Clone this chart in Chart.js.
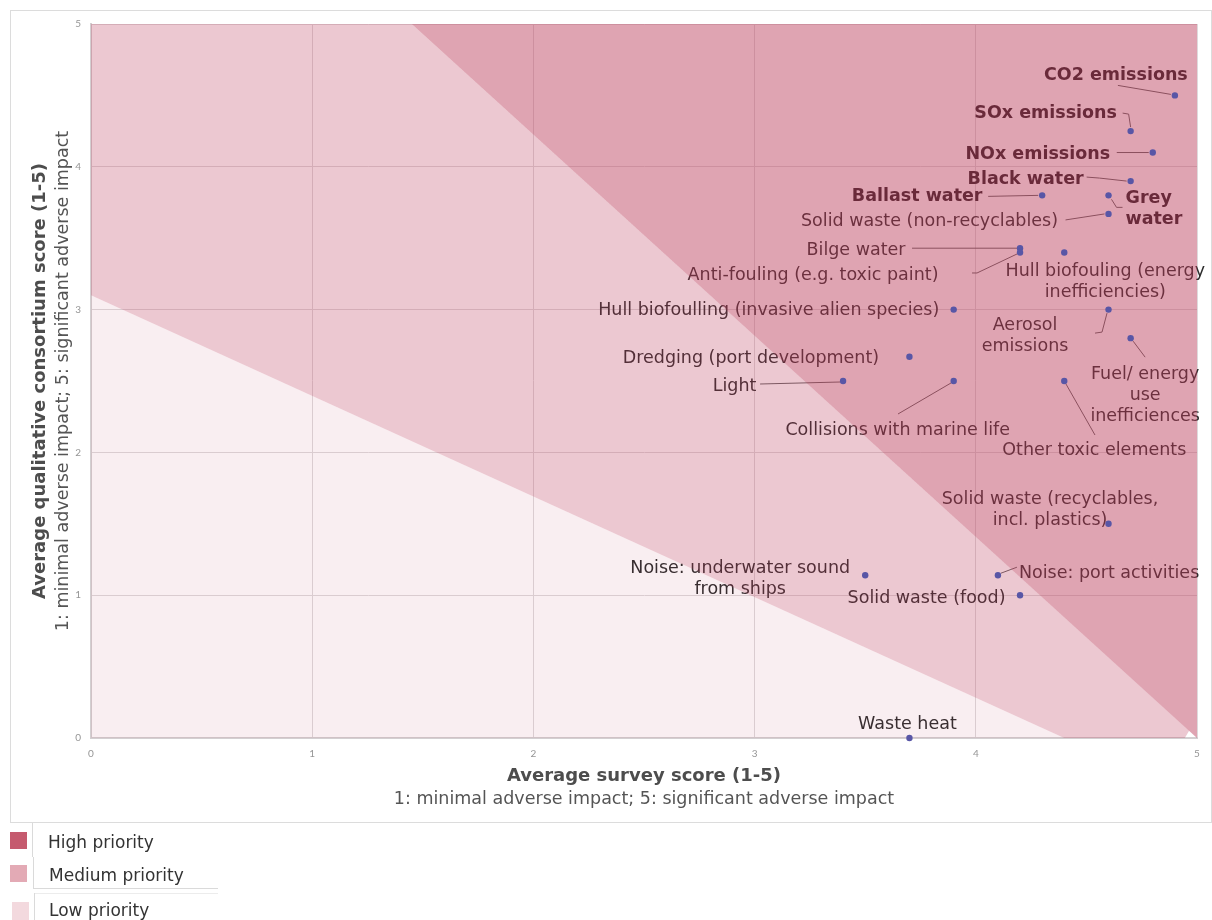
<!DOCTYPE html>
<html>
<head>
<meta charset="utf-8">
<title>Environmental impacts - priority matrix</title>
<script src="https://cdn.jsdelivr.net/npm/chart.js@4"></script>
<style>
    body { margin: 0; background: #fff; font-family: "DejaVu Sans", sans-serif; }
    #wrap { position: relative; width: 1212px; height: 920px; overflow: hidden; }
    #impactChart { position: absolute; left: 0; top: 0; }
    #frame { position: absolute; left: 10px; top: 10px; width: 1200px; height: 811px; border: 1px solid #dcdcdc; pointer-events: none; }
    .swatch { position: absolute; width: 17px; height: 17px; }
    .legend-text { position: absolute; font-size: 17px; color: #333; line-height: 20px; }
    .rule { position: absolute; background: #dadada; }
</style>
</head>
<body>
<div id="wrap">
    <canvas id="impactChart" width="1212" height="920"></canvas>
    <div id="frame"></div>

    <!-- priority legend -->
    <div class="rule" style="left:32px;top:823px;width:1px;height:34px"></div>
    <div class="rule" style="left:33px;top:857px;width:1px;height:31px"></div>
    <div class="rule" style="left:33px;top:888px;width:185px;height:1px"></div>
    <div class="rule" style="left:34px;top:893px;width:184px;height:1px;background:#ececec"></div>
    <div class="rule" style="left:34px;top:893px;width:1px;height:27px"></div>

    <div class="swatch" style="left:10px;top:832px;background:#c55a6e"></div>
    <div class="legend-text" style="left:48px;top:832px">High priority</div>
    <div class="swatch" style="left:10px;top:865px;background:#e3aab5"></div>
    <div class="legend-text" style="left:49px;top:865px">Medium priority</div>
    <div class="swatch" style="left:12px;top:902px;height:20px;background:#f3d9de"></div>
    <div class="legend-text" style="left:49px;top:900px">Low priority</div>
</div>

<script>
// ---- data ----
const impacts = [
    'CO2 emissions', 'SOx emissions', 'NOx emissions', 'Black water', 'Ballast water',
    'Grey\nwater', 'Solid waste (non-recyclables)', 'Bilge water', 'Anti-fouling (e.g. toxic paint)',
    'Hull biofouling (energy\ninefficiencies)', 'Hull biofoulling (invasive alien species)',
    'Aerosol\nemissions', 'Fuel/ energy\nuse\ninefficiences', 'Dredging (port development)',
    'Light', 'Collisions with marine life', 'Other toxic elements',
    'Solid waste (recyclables,\nincl. plastics)', 'Noise: underwater sound\nfrom ships',
    'Noise: port activities', 'Solid waste (food)', 'Waste heat'
];
const surveyScores     = [4.9, 4.7, 4.8, 4.7, 4.3, 4.6, 4.6, 4.2, 4.2, 4.4, 3.9, 4.6, 4.7, 3.7, 3.4, 3.9, 4.4, 4.6, 3.5, 4.1, 4.2, 3.7];
const consortiumScores = [4.5, 4.25, 4.1, 3.9, 3.8, 3.8, 3.67, 3.43, 3.4, 3.4, 3.0, 3.0, 2.8, 2.67, 2.5, 2.5, 2.5, 1.5, 1.14, 1.14, 1.0, 0];
const axisTicks = [0, 1, 2, 3, 4, 5];

// priority zones, corners in score units
const lowZone    = [[0, 0], [0, 3.1], [4.4, 0]];
const mediumZone = [[0, 3.1], [0, 5], [1.45, 5], [4.9645, 0.05], [4.945, 0], [4.4, 0]];
const highZone   = [[1.45, 5], [5, 5], [5, 0]];

// label placement: pixel offsets from the point, optional leader polyline
const labelLayout = [
    { dx: -59,   dy: -22,  bold: true, leader: [[-57, -10], [-4, -1]] },
    { dx: -85,   dy: -20,  bold: true, leader: [[-8, -18], [-2, -17], [0, -4]] },
    { dx: -115,  dy: 0,    bold: true, leader: [[-36, 0], [-4, 0]] },
    { dx: -105,  dy: -4,   bold: true, leader: [[-44, -4], [-31, -3], [-4, 0]] },
    { dx: -125,  dy: -1,   bold: true, leader: [[-54, 1], [-4, 0]] },
    { dx: 17,    dy: 12,   bold: true, align: 'left', leader: [[3, 4], [8, 12], [14, 12]] },
    { dx: -179,  dy: 6,    leader: [[-43, 6], [-4, 0]] },
    { dx: -164,  dy: 0,    leader: [[-108, 0], [-3, 0]] },
    { dx: -207,  dy: 20.5, leader: [[-48, 20.5], [-43, 20.5], [-3, 1.5]] },
    { dx: 41,    dy: 27.5 },
    { dx: -185,  dy: -1.5 },
    { dx: -83.5, dy: 24.5, leader: [[-13.5, 23.5], [-6.5, 22.5], [-1.5, 3.5]] },
    { dx: 14.5,  dy: 55,   leader: [[2.5, 3], [14.5, 19]] },
    { dx: -158.5, dy: -0.5 },
    { dx: -108.5, dy: 3,   leader: [[-83, 3], [-3, 1]] },
    { dx: -56,   dy: 47,   leader: [[-55.7, 33], [-2.7, 2]] },
    { dx: 30,    dy: 67,   leader: [[30.7, 54], [1.7, 3]] },
    { dx: -58.5, dy: -16 },
    { dx: -125,  dy: 2 },
    { dx: 21,    dy: -4,   align: 'left', leader: [[3, -2], [19, -8]] },
    { dx: -93.5, dy: 1 },
    { dx: -2,    dy: -16 }
];

const LABEL_FONT = '17.5px "DejaVu Sans"';
const LABEL_FONT_BOLD = 'bold 17.5px "DejaVu Sans"';
const LINE_HEIGHT = 21;
const TEXT_NUDGE = 2;   // canvas 'middle' sits a little high for mixed-case text

function fillZone(ctx, x, y, corners, colour) {
    ctx.beginPath();
    corners.forEach(([cx, cy], i) => {
        const px = x.getPixelForValue(cx);
        const py = y.getPixelForValue(cy);
        if (i === 0) ctx.moveTo(px, py); else ctx.lineTo(px, py);
    });
    ctx.closePath();
    ctx.fillStyle = colour;
    ctx.fill();
}

// labels go down first, then the translucent zones tint everything in the plot
const zonesAndLabels = {
    id: 'zonesAndLabels',
    beforeDatasetsDraw(chart) {
        const { ctx, chartArea, scales: { x, y } } = chart;
        const meta = chart.getDatasetMeta(0);

        ctx.save();
        meta.data.forEach((pt, i) => {
            const lay = labelLayout[i];
            if (lay.leader) {
                ctx.beginPath();
                lay.leader.forEach(([lx, ly], j) => {
                    if (j === 0) ctx.moveTo(pt.x + lx, pt.y + ly); else ctx.lineTo(pt.x + lx, pt.y + ly);
                });
                ctx.strokeStyle = '#666';
                ctx.lineWidth = 1;
                ctx.stroke();
            }
            const lines = impacts[i].split('\n');
            ctx.font = lay.bold ? LABEL_FONT_BOLD : LABEL_FONT;
            ctx.fillStyle = lay.bold ? '#2a2226' : '#2e2e2e';
            ctx.textAlign = lay.align || 'center';
            ctx.textBaseline = 'middle';
            const top = pt.y + lay.dy + TEXT_NUDGE - (lines.length - 1) * LINE_HEIGHT / 2;
            lines.forEach((txt, k) => ctx.fillText(txt, pt.x + lay.dx, top + k * LINE_HEIGHT));
        });
        ctx.restore();

        ctx.save();
        ctx.beginPath();
        ctx.rect(chartArea.left, chartArea.top, chartArea.right - chartArea.left, chartArea.bottom - chartArea.top);
        ctx.clip();
        fillZone(ctx, x, y, lowZone, 'rgba(184, 53, 84, 0.084)');
        fillZone(ctx, x, y, mediumZone, 'rgba(184, 53, 84, 0.27)');
        fillZone(ctx, x, y, highZone, 'rgba(184, 53, 84, 0.45)');
        ctx.restore();
    },
    afterDraw(chart) {
        const { ctx, chartArea } = chart;
        const cx = (chartArea.left + chartArea.right) / 2;
        const cy = (chartArea.top + chartArea.bottom) / 2;
        ctx.save();
        ctx.textAlign = 'center';
        ctx.textBaseline = 'middle';

        ctx.fillStyle = '#4d4d4d';
        ctx.font = 'bold 18px "DejaVu Sans"';
        ctx.fillText('Average survey score (1-5)', cx, 776);
        ctx.fillStyle = '#555';
        ctx.font = '17.5px "DejaVu Sans"';
        ctx.fillText('1: minimal adverse impact; 5: significant adverse impact', cx, 799);

        ctx.translate(40, cy);
        ctx.rotate(-Math.PI / 2);
        ctx.fillStyle = '#4d4d4d';
        ctx.font = 'bold 18px "DejaVu Sans"';
        ctx.fillText('Average qualitative consortium score (1-5)', 0, 0);
        ctx.fillStyle = '#555';
        ctx.font = '17.5px "DejaVu Sans"';
        ctx.fillText('1: minimal adverse impact; 5: significant adverse impact', 0, 23);
        ctx.restore();
    }
};

function scoreAxis(extra) {
    return Object.assign({
        type: 'linear',
        min: 0,
        max: 5,
        afterBuildTicks: scale => { scale.ticks = axisTicks.map(v => ({ value: v })); },
        grid: { color: '#dedadc', lineWidth: 1, drawTicks: false },
        border: { color: '#d3cfd1', width: 2 },
        ticks: { color: '#959595', font: { family: 'Lato', size: 10 } }
    }, extra);
}

const chartCanvas = document.getElementById('impactChart');
new Chart(chartCanvas.getContext('2d'), {
    type: 'scatter',
    data: {
        datasets: [{
            label: 'Impacts',
            data: surveyScores.map((s, i) => ({ x: s, y: consortiumScores[i] })),
            backgroundColor: '#5856a6',
            borderWidth: 0,
            pointRadius: 3.2,
            pointHoverRadius: 3.2,
            clip: false
        }]
    },
    options: {
        responsive: false,
        animation: false,
        events: [],
        layout: { padding: { top: 24, right: 15, left: 0, bottom: 0 } },
        plugins: { legend: { display: false }, tooltip: { enabled: false } },
        scales: {
            x: scoreAxis({
                position: 'bottom',
                afterFit: scale => { scale.height = 182; },
                ticks: { color: '#959595', font: { family: 'Lato', size: 10 }, padding: 10, maxRotation: 0 }
            }),
            y: scoreAxis({
                position: 'left',
                afterFit: scale => { scale.width = 91; },
                ticks: { color: '#959595', font: { family: 'Lato', size: 10 }, padding: 10 }
            })
        }
    },
    plugins: [zonesAndLabels]
});
</script>
</body>
</html>
